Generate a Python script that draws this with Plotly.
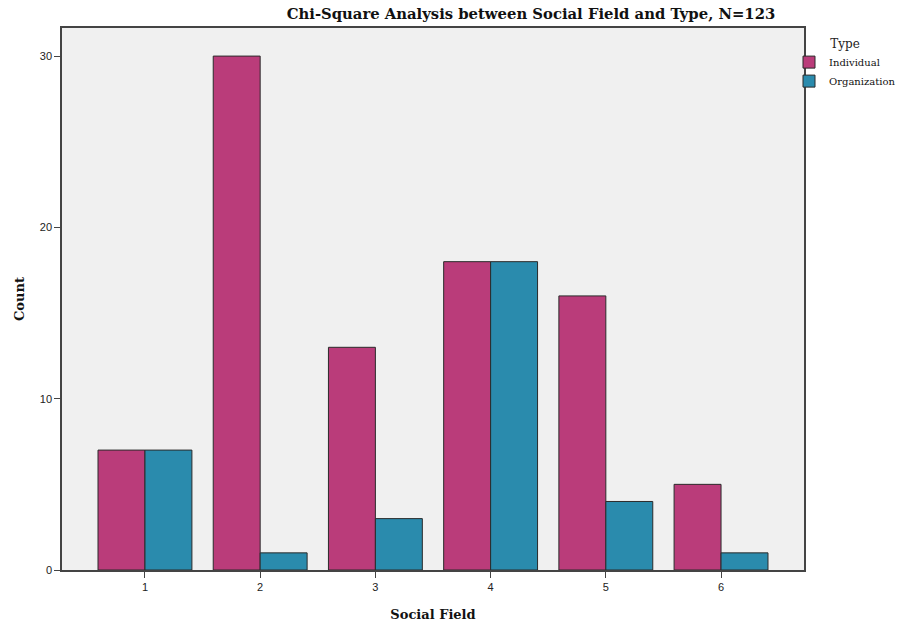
import plotly.graph_objects as go

categories = [1, 2, 3, 4, 5, 6]
individual = [7, 30, 13, 18, 16, 5]
organization = [7, 1, 3, 18, 4, 1]
y_ticks = [0, 10, 20, 30]

fig = go.Figure()
fig.add_trace(go.Bar(x=categories, y=individual, name="Individual",
                     marker=dict(color="#BA3C7A", line=dict(color="#2b2b2b", width=1))))
fig.add_trace(go.Bar(x=categories, y=organization, name="Organization",
                     marker=dict(color="#2A8BAD", line=dict(color="#2b2b2b", width=1))))

L, R, T, B = 62, 95, 28, 53
pw = 899 - L - R
ph = 623 - T - B

fig.update_layout(
    width=899, height=623,
    margin=dict(l=L, r=R, t=T, b=B, autoexpand=False),
    paper_bgcolor="white", plot_bgcolor="#F0F0F0",
    barmode="group", bargap=0.185, bargroupgap=0,
    title=dict(text="<b>Chi-Square Analysis between Social Field and Type, N=123</b>",
               x=(531 - L) / pw, xanchor="center", xref="paper", y=1 - 14 / 623, yanchor="middle",
               font=dict(family="DejaVu Serif", size=14.8, color="#111")),
    legend=dict(title=dict(text="Type", side="top center",
                           font=dict(family="DejaVu Serif", size=12, color="#222")),
                x=(789 - L) / pw, xanchor="left", y=1 - 4 / ph, yanchor="top",
                font=dict(family="DejaVu Serif", size=10, color="#111"),
                itemwidth=30, tracegroupgap=0, bgcolor="rgba(0,0,0,0)"),
    showlegend=True,
)
fig.update_xaxes(range=[0.28, 6.72], tickvals=categories, ticks="outside", ticklen=6,
                 tickcolor="#444", showline=True, linecolor="#444", linewidth=1.5, mirror=True,
                 showgrid=False, zeroline=False,
                 tickfont=dict(family="Liberation Sans", size=11, color="#222"),
                 title=dict(text="<b>Social Field</b>", standoff=18,
                            font=dict(family="DejaVu Serif", size=13, color="#111")))
fig.update_yaxes(range=[0, 31.64], tickvals=y_ticks, ticks="outside", ticklen=6,
                 tickcolor="#444", showline=True, linecolor="#444", linewidth=1.5, mirror=True,
                 showgrid=False, zeroline=False,
                 tickfont=dict(family="Liberation Sans", size=11, color="#222"),
                 title=dict(text="<b>Count</b>", standoff=12,
                            font=dict(family="DejaVu Serif", size=13, color="#111")))

fig.write_html("out.html", config={"displayModeBar": False},
               post_script="document.body.style.margin='0';document.body.style.overflow='hidden';")
